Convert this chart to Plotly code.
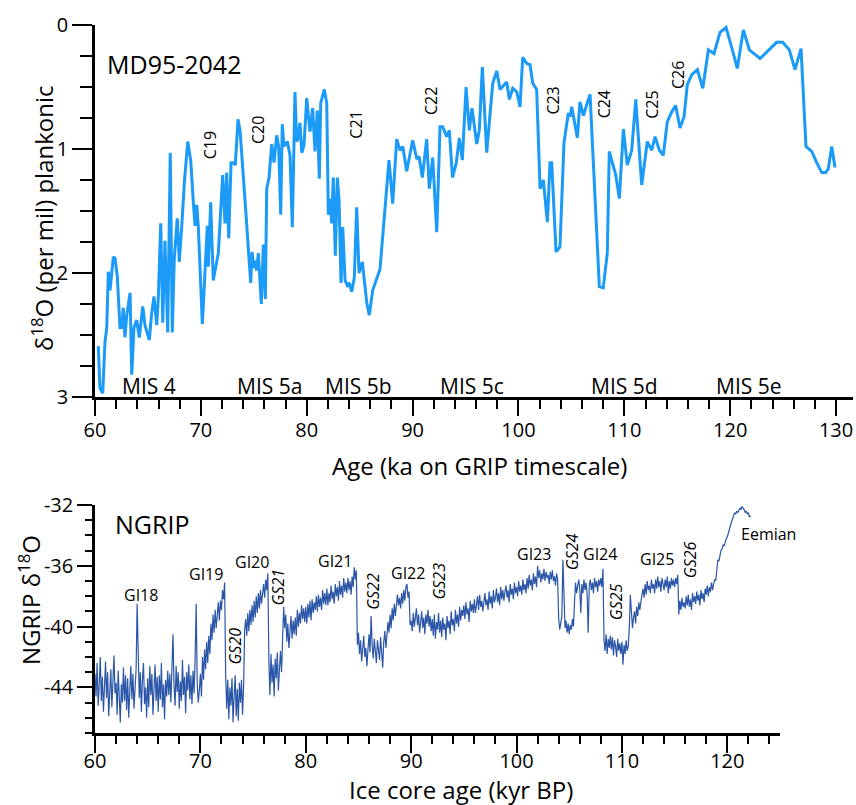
import numpy as np
import plotly.graph_objects as go

# ---------------- data ----------------
md_age = [
    60.31, 60.47, 60.73, 60.94, 61.11, 61.26, 61.42, 61.58, 61.73, 61.89,
    62.11, 62.36, 62.52, 62.67, 62.83, 62.99, 63.31, 63.47, 63.68, 63.94,
    64.18, 64.51, 64.72, 65.13, 65.36, 65.57, 65.83, 65.98, 66.21, 66.40,
    66.61, 66.87, 67.11, 67.30, 67.49, 67.77, 67.96, 68.19, 68.44, 68.76,
    69.04, 69.29, 69.45, 69.61, 69.76, 70.14, 70.61, 70.70, 70.93, 71.17,
    71.65, 72.06, 72.28, 72.44, 72.63, 72.85, 73.06, 73.25, 73.51, 73.70,
    73.95, 74.26, 74.48, 74.71, 74.83, 75.02, 75.14, 75.27, 75.43, 75.71,
    75.90, 76.09, 76.22, 76.44, 76.69, 76.91, 77.16, 77.35, 77.54, 77.69,
    77.85, 78.17, 78.42, 78.64, 78.89, 79.05, 79.20, 79.36, 79.53, 79.74,
    80.00, 80.31, 80.56, 80.78, 81.00, 81.19, 81.32, 81.66, 81.89, 82.04,
    82.20, 82.36, 82.51, 82.70, 82.89, 83.05, 83.24, 83.40, 83.62, 83.83,
    84.02, 84.25, 84.49, 84.72, 84.94, 85.25, 85.67, 85.91, 86.23, 86.92,
    87.77, 88.12, 88.50, 88.81, 89.07, 89.44, 90.01, 90.39, 90.61, 90.92,
    91.33, 91.58, 91.90, 92.28, 92.59, 92.84, 93.22, 93.47, 93.77, 94.13,
    94.41, 94.70, 95.05, 95.36, 95.61, 96.06, 96.30, 96.59, 97.00, 97.57,
    97.95, 98.26, 98.89, 99.14, 99.46, 99.84, 100.15, 100.40, 100.78, 101.09,
    101.35, 101.72, 102.04, 102.35, 102.73, 102.98, 103.14, 103.55, 103.92, 104.30,
    104.71, 104.87, 105.03, 105.56, 105.81, 106.13, 106.76, 107.64, 108.01, 108.39,
    108.58, 109.19, 109.53, 109.91, 110.28, 110.70, 111.08, 111.64, 112.17, 112.59,
    112.90, 113.31, 113.68, 114.06, 114.48, 114.85, 115.26, 115.64, 115.95, 116.37,
    116.90, 117.41, 117.94, 118.47, 119.04, 119.61, 120.14, 120.67, 121.24, 121.81,
    122.82, 124.39, 124.96, 125.58, 126.12, 126.69, 127.16, 127.70, 128.17, 128.65,
    129.02, 129.27, 129.59, 129.90,
]
md_d18o = [
    2.59, 2.93, 2.97, 2.56, 2.44, 1.99, 2.14, 1.99, 1.87, 1.88,
    2.03, 2.44, 2.44, 2.28, 2.52, 2.35, 2.16, 2.82, 2.44, 2.38,
    2.52, 2.27, 2.42, 2.54, 2.32, 2.19, 2.42, 2.20, 1.60, 2.40,
    1.74, 2.48, 1.03, 2.48, 1.88, 1.56, 1.91, 1.63, 1.27, 0.94,
    1.09, 1.43, 1.62, 1.45, 1.63, 2.41, 1.62, 1.95, 1.43, 2.06,
    1.84, 1.21, 1.60, 1.19, 1.72, 1.11, 1.11, 1.13, 0.76, 0.85,
    1.19, 1.52, 1.80, 2.08, 1.83, 1.96, 1.90, 1.98, 1.84, 2.25,
    1.77, 2.21, 1.32, 1.23, 0.96, 1.11, 0.89, 0.98, 1.53, 0.80,
    0.98, 0.94, 1.05, 1.63, 0.54, 0.94, 0.91, 0.79, 1.03, 0.97,
    0.59, 0.86, 0.67, 1.02, 0.69, 1.24, 0.63, 0.52, 0.63, 1.53,
    1.40, 1.60, 1.23, 1.86, 1.23, 1.41, 2.08, 1.63, 2.06, 2.10,
    2.08, 2.15, 2.04, 1.47, 2.00, 1.91, 2.24, 2.34, 2.14, 1.97,
    1.09, 1.44, 0.92, 1.01, 0.98, 1.18, 0.93, 1.08, 1.06, 1.23,
    0.92, 1.32, 1.07, 1.67, 0.82, 0.82, 0.90, 0.85, 1.23, 1.11,
    0.91, 1.09, 0.50, 0.85, 0.67, 0.96, 0.85, 0.34, 1.03, 0.47,
    0.37, 0.52, 0.46, 0.60, 0.51, 0.54, 0.66, 0.26, 0.31, 0.32,
    0.47, 0.52, 1.32, 1.25, 1.59, 1.11, 1.11, 1.83, 1.79, 0.95,
    0.71, 0.74, 0.66, 0.91, 0.62, 0.73, 0.56, 2.11, 2.12, 1.84,
    1.02, 1.21, 1.40, 0.84, 1.13, 1.01, 0.60, 1.29, 0.94, 1.01,
    0.90, 1.01, 1.05, 0.78, 0.70, 0.65, 0.83, 0.74, 0.48, 0.40,
    0.36, 0.51, 0.20, 0.23, 0.06, 0.02, 0.18, 0.35, 0.04, 0.20,
    0.27, 0.14, 0.14, 0.20, 0.36, 0.19, 0.98, 1.02, 1.11, 1.19,
    1.19, 1.16, 0.98, 1.15,
]

# NGRIP record, read every 0.1 kyr starting at 60.0 kyr BP (one row per kyr)
ngrip_start = 60.0
ngrip_step = 0.1
ngrip_d18o = [
    -43.1, -44.6, -42.4, -45.2, -43.8, -42.0, -44.9, -43.3, -45.6, -43.6,
    -42.3, -44.7, -43.0, -45.9, -44.1, -42.8, -45.3, -43.5, -41.9, -44.4,
    -43.7, -45.8, -42.9, -44.6, -46.3, -43.8, -45.0, -42.7, -44.9, -43.2,
    -45.5, -43.4, -46.0, -44.2, -42.6, -44.8, -43.1, -45.4, -43.9, -42.8,
    -38.5, -41.6, -44.7, -43.0, -45.6, -43.5, -42.4, -45.1, -44.0, -46.0,
    -43.4, -45.3, -42.6, -44.5, -43.1, -45.8, -43.7, -42.5, -44.9, -43.3,
    -45.6, -43.2, -44.8, -42.4, -45.3, -43.8, -46.1, -43.5, -44.6, -42.9,
    -44.5, -43.1, -45.0, -42.8, -40.5, -43.9, -45.2, -42.6, -44.3, -43.0,
    -45.4, -43.6, -44.9, -42.2, -44.5, -43.3, -45.7, -43.0, -44.2, -42.5,
    -44.8, -43.2, -45.1, -42.9, -44.4, -42.1, -38.5, -43.8, -45.0, -44.2,
    -43.1, -44.6, -42.0, -43.5, -41.5, -42.8, -41.0, -42.4, -40.6, -41.8,
    -39.8, -40.9, -39.2, -40.4, -38.9, -40.1, -39.0, -38.4, -39.6, -38.3,
    -38.9, -37.6, -38.2, -37.1, -43.2, -45.4, -43.5, -46.1, -44.0, -45.2,
    -43.4, -46.3, -44.6, -43.2, -45.9, -44.1, -46.2, -43.7, -45.0, -43.5,
    -45.8, -44.0, -40.2, -39.5, -40.6, -39.1, -40.3, -38.9, -39.9, -38.6,
    -39.7, -38.3, -39.4, -38.0, -39.1, -37.8, -38.8, -37.6, -38.5, -37.9,
    -37.2, -38.1, -36.9, -37.6, -36.5, -42.3, -44.5, -41.8, -43.7, -42.5,
    -44.6, -42.1, -43.4, -41.7, -44.2, -42.8, -41.6, -43.0, -41.2, -38.7,
    -40.1, -39.2, -41.0, -39.8, -41.4, -40.2, -39.3, -40.8, -39.6, -40.5,
    -39.4, -40.6, -38.9, -40.0, -39.1, -39.8, -38.6, -39.5, -38.8, -39.7,
    -38.7, -39.8, -38.5, -39.4, -38.3, -39.6, -38.2, -39.1, -38.4, -38.9,
    -38.0, -39.0, -37.9, -38.7, -38.1, -38.9, -37.6, -38.5, -37.8, -38.6,
    -37.5, -38.6, -37.8, -38.4, -37.3, -38.2, -37.7, -38.5, -37.2, -38.0,
    -37.4, -38.3, -37.0, -37.9, -37.3, -38.1, -36.8, -37.7, -37.1, -37.8,
    -36.8, -37.6, -37.0, -37.9, -36.7, -37.4, -36.1, -36.9, -36.3, -41.2,
    -40.4, -41.8, -40.9, -42.3, -41.1, -40.6, -42.0, -41.4, -42.6, -41.0,
    -40.5, -41.7, -39.3, -41.2, -42.1, -40.8, -41.6, -42.4, -40.9, -41.5,
    -42.2, -40.7, -41.6, -42.7, -41.0, -40.3, -41.4, -40.1, -39.7, -40.4,
    -39.2, -40.1, -38.8, -39.6, -38.5, -39.3, -38.7, -37.9, -38.6, -38.1,
    -38.8, -37.8, -38.5, -37.6, -38.3, -37.4, -37.2, -38.1, -37.7, -39.9,
    -39.6, -40.3, -39.1, -40.0, -39.4, -38.8, -39.9, -39.2, -40.4, -39.5,
    -39.0, -40.1, -39.4, -40.5, -39.2, -39.8, -38.9, -40.0, -39.3, -40.3,
    -39.5, -40.6, -39.2, -40.8, -39.7, -40.2, -39.1, -40.4, -39.6, -40.7,
    -39.4, -40.2, -39.8, -40.9, -39.3, -40.1, -39.6, -40.5, -39.0, -39.9,
    -39.5, -40.3, -38.9, -39.8, -39.2, -40.0, -38.7, -39.6, -38.9, -39.3,
    -38.6, -39.5, -38.4, -39.2, -38.8, -39.7, -38.3, -39.0, -38.5, -39.1,
    -38.2, -39.1, -38.6, -38.0, -38.9, -37.9, -38.7, -38.3, -39.0, -38.1,
    -37.8, -38.6, -38.2, -38.9, -37.7, -38.5, -38.0, -38.8, -37.6, -38.4,
    -38.1, -37.5, -38.4, -37.8, -38.6, -37.4, -38.2, -37.6, -38.3, -37.7,
    -37.3, -38.1, -37.6, -38.4, -37.2, -37.9, -37.5, -38.2, -37.1, -37.8,
    -37.4, -38.0, -37.0, -37.7, -37.3, -37.9, -36.9, -37.6, -37.2, -37.8,
    -36.8, -37.5, -36.6, -37.3, -36.9, -37.6, -36.5, -37.2, -36.7, -37.4,
    -36.0, -36.8, -36.3, -37.1, -36.5, -36.9, -36.2, -37.0, -36.4, -36.8,
    -36.6, -37.2, -36.4, -36.9, -36.3, -37.0, -36.7, -37.3, -36.5, -36.9,
    -39.5, -40.2, -39.8, -39.3, -35.6, -38.2, -40.1, -39.6, -40.4, -39.8,
    -40.5, -39.9, -40.2, -39.5, -40.0, -38.4, -37.1, -37.8, -37.3, -36.9,
    -37.5, -39.1, -37.2, -37.8, -36.9, -37.6, -37.1, -37.9, -40.4, -37.3,
    -36.9, -37.6, -37.1, -37.8, -36.8, -37.4, -37.0, -37.7, -36.9, -37.3,
    -36.8, -37.4, -36.2, -40.9, -41.6, -40.5, -41.8, -40.8, -41.4, -40.6,
    -41.5, -40.7, -41.9, -40.9, -41.3, -42.0, -40.8, -41.6, -41.1, -41.8,
    -41.0, -42.5, -41.2, -41.8, -40.9, -41.6, -41.3, -40.1, -37.9, -39.6,
    -40.1, -39.4, -39.0, -39.8, -38.7, -39.3, -38.4, -38.9, -38.2, -37.9,
    -37.5, -38.1, -37.2, -37.9, -37.0, -37.6, -37.3, -37.8, -36.9, -37.5,
    -37.2, -37.8, -36.9, -37.5, -36.7, -37.4, -37.0, -37.7, -36.8, -37.3,
    -37.6, -36.9, -37.4, -36.7, -37.8, -37.0, -37.5, -36.8, -37.3, -36.9,
    -37.4, -36.8, -37.2, -36.6, -39.2, -38.3, -38.9, -38.1, -38.7, -38.4,
    -38.8, -38.0, -38.6, -37.9, -38.7, -38.2, -38.9, -37.8, -38.4, -38.0,
    -38.5, -37.7, -38.3, -37.9, -38.6, -37.6, -38.2, -37.8, -38.4, -37.5,
    -37.9, -37.3, -38.0, -37.4, -37.7, -37.1, -37.6, -37.2, -36.9, -37.0,
    -36.1, -35.6, -35.7, -35.2, -35.0, -34.9, -34.6, -34.7, -34.4, -34.2,
    -34.1, -33.8, -33.6, -33.3, -33.1, -32.9, -32.7, -32.5, -32.6, -32.4,
    -32.5, -32.3, -32.2, -32.3, -32.1, -32.2, -32.3, -32.5, -32.4, -32.6,
    -32.5, -32.8, -32.7,
]
ngrip_age = ngrip_start + ngrip_step * np.arange(len(ngrip_d18o))

ngrip_y_ticks = [-32, -36, -40, -44]
ngrip_y_labels = ["-32", "-36", "-40", "-44"]

c_labels = ["C19", "C20", "C21", "C22", "C23", "C24", "C25", "C26"]
c_age = [70.86, 75.45, 84.70, 91.68, 103.26, 108.08, 112.66, 115.02]
c_val = [0.97, 0.85, 0.80, 0.61, 0.61, 0.64, 0.64, 0.40]

mis_labels = ["MIS 4", "MIS 5a", "MIS 5b", "MIS 5c", "MIS 5d", "MIS 5e"]
mis_age = [65.10, 76.44, 84.89, 95.61, 109.97, 121.73]
mis_val = 2.91

gi_labels = ["GI18", "GI19", "GI20", "GI21", "GI22", "GI23", "GI24", "GI25", "Eemian"]
gi_age = [64.32, 70.54, 74.90, 82.80, 89.68, 101.69, 107.90, 113.37, 123.87]
gi_val = [-37.93, -36.52, -35.74, -35.70, -36.46, -35.25, -35.25, -35.54, -33.90]

gs_labels = ["GS20", "GS21", "GS22", "GS23", "GS24", "GS25", "GS26"]
gs_age = [73.30, 77.33, 86.35, 92.67, 105.25, 109.43, 116.41]
gs_val = [-41.30, -37.38, -37.67, -37.02, -35.05, -38.33, -35.60]

# ---------------- figure ----------------
W, H = 856, 805
FONT = "Open Sans"


def fx(p):
    return p / W


def fy(p):
    return 1 - p / H


fig = go.Figure()
fig.add_trace(go.Scatter(x=md_age, y=md_d18o, mode="lines",
                         line=dict(color="#1b9af7", width=3),
                         xaxis="x", yaxis="y", showlegend=False, hoverinfo="skip"))
fig.add_trace(go.Scatter(x=ngrip_age, y=ngrip_d18o, mode="lines",
                         line=dict(color="#2b56a8", width=1.2),
                         xaxis="x2", yaxis="y2", showlegend=False, hoverinfo="skip"))

base = dict(showline=True, linecolor="black", linewidth=2.5, showgrid=False,
            zeroline=False, ticks="outside", tickcolor="black", tickwidth=2,
            automargin=False,
            tickfont=dict(family=FONT, size=20, color="black"))

fig.update_layout(
    width=W, height=H,
    margin=dict(l=0, r=0, t=0, b=0, pad=0, autoexpand=False),
    paper_bgcolor="white", plot_bgcolor="white", showlegend=False,
    xaxis=dict(base, domain=[fx(95), fx(853)], range=[60, 131.6], anchor="y",
               tickmode="linear", tick0=60, dtick=10, ticklen=16,
               ticklabelstandoff=-3,
               minor=dict(dtick=2, tick0=60, ticklen=9, tickwidth=2,
                          ticks="outside", tickcolor="black")),
    yaxis=dict(base, domain=[fy(397), fy(25)], range=[3, 0], anchor="x",
               tickmode="linear", tick0=0, dtick=1, ticklen=20,
               minor=dict(dtick=0.25, tick0=0, ticklen=12, tickwidth=2,
                          ticks="outside", tickcolor="black")),
    xaxis2=dict(base, domain=[fx(95), fx(780)], range=[60, 125], anchor="y2",
                tickmode="linear", tick0=60, dtick=10, ticklen=17,
                ticklabelstandoff=-9,
                minor=dict(dtick=2, tick0=60, ticklen=8, tickwidth=2,
                           ticks="outside", tickcolor="black")),
    yaxis2=dict(base, domain=[fy(733), fy(505)], range=[-47, -32], anchor="x2",
                tickmode="array", tickvals=ngrip_y_ticks, ticktext=ngrip_y_labels,
                ticklen=15,
                minor=dict(dtick=1, tick0=-32, ticklen=7, tickwidth=2,
                           ticks="outside", tickcolor="black")),
)

ann = []


def txt(text, x, y, size, xref="paper", yref="paper", angle=0, xanchor="center", yanchor="middle"):
    ann.append(dict(text=text, x=x, y=y, xref=xref, yref=yref, showarrow=False,
                    textangle=angle, xanchor=xanchor, yanchor=yanchor,
                    font=dict(family=FONT, size=size, color="black")))


# axis titles
txt("Age (ka on GRIP timescale)", fx(480), fy(465), 24)
txt("Ice core age (kyr BP)", fx(461), fy(789), 24)
txt("δ<sup>18</sup>O (per mil) plankonic", fx(42), fy(218), 24, angle=-90)
txt("NGRIP δ<sup>18</sup>O", fx(29), fy(600), 24, angle=-90)

# panel names
txt("MD95-2042", 67.46, 0.315, 25, xref="x", yref="y")
txt("NGRIP", 65.40, -33.25, 25, xref="x2", yref="y2")

for lab, a, v in zip(c_labels, c_age, c_val):
    txt(lab, a, v, 16, xref="x", yref="y", angle=-90)
for lab, a in zip(mis_labels, mis_age):
    txt(lab, a, mis_val, 21, xref="x", yref="y")
for lab, a, v in zip(gi_labels, gi_age, gi_val):
    txt(lab, a, v, 16, xref="x2", yref="y2")
for lab, a, v in zip(gs_labels, gs_age, gs_val):
    txt("<i>" + lab + "</i>", a, v, 16, xref="x2", yref="y2", angle=-90)

fig.update_layout(annotations=ann)
fig.write_html("out.html")
